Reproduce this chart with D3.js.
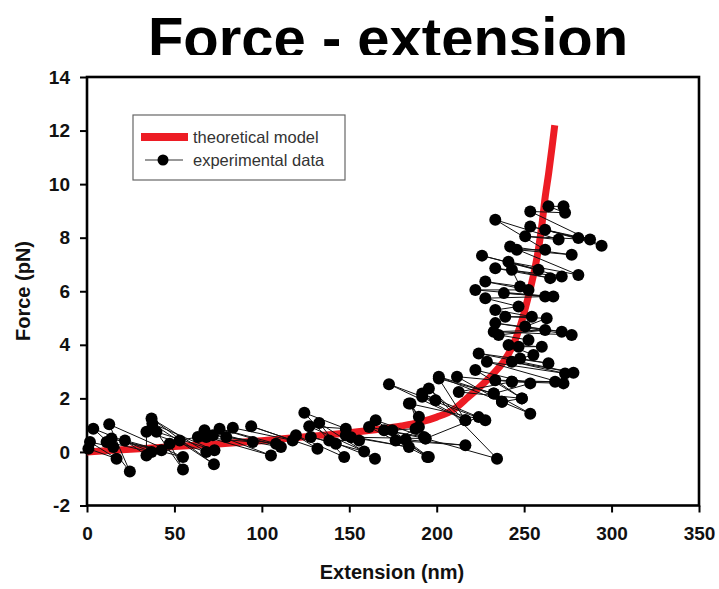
<meta charset="utf-8">
<svg id="svg" width="719" height="589"></svg>
<script src="https://cdnjs.cloudflare.com/ajax/libs/d3/7.8.5/d3.min.js"></script>
<script>
    // theoretical model curve (nm, pN)
    var modelX = [0, 25, 50, 75, 100, 125, 150, 165, 180, 190, 200, 210, 218, 225, 232, 238, 243, 248, 252, 255, 258, 260, 262, 264, 266, 267.5];
    var modelY = [0, 0.1, 0.2, 0.3, 0.42, 0.57, 0.72, 0.83, 0.97, 1.1, 1.3, 1.6, 2.05, 2.45, 2.9, 3.35, 3.9, 4.75, 5.7, 6.5, 7.5, 8.4, 9.5, 10.4, 11.4, 12.2];

    // experimental data, in recorded order
    var expX = [0.8, 16.9, 1.7, 15, 3.6, 36.9, 11.2, 24.5, 12.7, 54.9, 14, 42.6, 21.7, 34, 34, 68.2, 36.9, 72.6, 37.4, 72.9,
        39.7, 54.9, 47.3, 53, 63.4, 94.8, 67.2, 105.2, 68.2, 72, 108.1, 75.8, 110.9, 79.6, 83.4, 117.6, 93.9, 131.8,
        119.5, 147.1, 124.3, 148, 127.1, 158.5, 128, 142.3, 132.8, 164.7, 138.5, 155.6, 148, 184.1, 151, 193.6,
        161.3, 194.6, 165.1, 192.7, 169.9, 195.5, 174.6, 187.9, 176.5, 216.4, 182.2, 189.8, 185, 189.8, 184.1, 227.8,
        172.7, 216.4, 191.7, 199.3, 191.7, 224, 193.6, 234.5, 195.5, 216.4, 201.2, 232.6, 201.2, 237.3, 211.6, 243, 212.6, 248.7,
        222.1, 253.5, 232.6, 253.5, 237.3, 248.7, 233.5, 267.7, 243, 272.5, 228.7, 273.4, 243, 278.2, 224, 263.9,
        247.7, 255.3, 241.1, 260.1, 246.8, 252.5, 235.4, 262, 232.6, 277.2, 233.5, 271.5, 250.6, 262.9, 239.2, 254.4,
        233.5, 246.8, 227.8, 262, 238.4, 266.7, 222.1, 252.5, 227.8, 247.7, 243, 264.9, 233.5, 271.5, 225.9, 258.2, 241, 281,
        242, 277.2, 245.8, 262, 233.5, 269.7, 250.6, 287.7, 253.5, 281, 262, 294.3, 253.5, 273.4, 263.9, 272.5];
    var expY = [0.12, -0.25, 0.37, 0.18, 0.87, 0.0, 0.37, -0.73, 1.03, -0.19, 0.5, 0.06, 0.43, -0.13, 0.75, 0.0, 1.25, -0.46, 1.06, 0.06,
        0.75, -0.66, 0.31, 0.43, 0.56, 0.37, 0.81, -0.13, 0.56, 0.62, 0.31, 0.87, 0.18, 0.56, 0.9, 0.43, 0.96, 0.12,
        0.62, -0.19, 1.46, 0.87, 0.96, 0.02, 0.56, 0.31, 1.08, -0.25, 0.43, 0.43, 0.62, 0.18, 0.55, 0.5,
        0.93, -0.19, 1.18, 0.56, 0.81, -0.19, 0.81, 0.87, 0.43, 0.25, 0.46, 0.93, 1.81, 1.31, 1.81, 1.18,
        2.53, 1.18, 2.06, 1.93, 2.18, 1.3, 0.5, -0.25, 2.37, 1.18, 2.74, 2.18, 2.81, 1.87, 2.81, 2.62, 2.24, 2.0,
        3.06, 2.56, 2.18, 1.43, 1.87, 2.0, 2.68, 2.62, 2.62, 2.56, 3.37, 2.93, 3.37, 2.96, 3.68, 3.31,
        3.49, 3.62, 3.99, 3.93, 3.93, 4.18, 4.37, 4.55, 4.49, 4.37, 4.81, 4.49, 4.68, 4.99, 5.05, 5.05,
        5.3, 5.43, 5.74, 5.8, 5.93, 5.8, 6.05, 6.05, 6.36, 6.18, 6.8, 6.49, 6.86, 6.55, 7.33, 6.8, 7.1, 6.61,
        7.67, 7.36, 7.55, 7.55, 8.67, 7.93, 8.05, 7.93, 8.42, 7.99, 8.3, 7.7, 8.98, 8.93, 9.17, 9.17];

    var xTicks = [0, 50, 100, 150, 200, 250, 300, 350];
    var yTicks = [-2, 0, 2, 4, 6, 8, 10, 12, 14];
    var legendLabels = ["theoretical model", "experimental data"];

    var svg = d3.select("#svg");
    var font = "'Liberation Sans', Arial, sans-serif";
    var plotL = 87, plotR = 699, plotT = 77, plotB = 505.5;

    var x = d3.scaleLinear().domain([0, 350]).range([plotL, plotR]);
    var y = d3.scaleLinear().domain([-2, 14]).range([plotB, plotT]);

    svg.append("rect").attr("width", 719).attr("height", 589).attr("fill", "#fff");

    // title, cut off at the bottom like the source image
    svg.append("clipPath").attr("id", "titleclip")
        .append("rect").attr("x", 0).attr("y", 0).attr("width", 719).attr("height", 55);
    svg.append("text")
        .attr("clip-path", "url(#titleclip)")
        .attr("x", 388).attr("y", 58)
        .attr("text-anchor", "middle")
        .attr("font-family", font).attr("font-weight", "bold").attr("font-size", 58)
        .text("Force - extension");

    // axes
    var plain = function (d) { return String(d); };
    var gx = svg.append("g").attr("transform", "translate(0," + plotB + ")")
        .call(d3.axisBottom(x).tickValues(xTicks).tickFormat(plain).tickSize(7).tickPadding(14));
    var gy = svg.append("g").attr("transform", "translate(" + plotL + ",0)")
        .call(d3.axisLeft(y).tickValues(yTicks).tickFormat(plain).tickSize(7).tickPadding(10));
    [gx, gy].forEach(function (g) {
        g.select(".domain").remove();
        g.selectAll("line").attr("stroke", "#000").attr("stroke-width", 2);
        g.selectAll("text").attr("font-family", font).attr("font-weight", "bold")
            .attr("font-size", 19).attr("fill", "#111");
    });

    svg.append("rect")
        .attr("x", plotL).attr("y", plotT)
        .attr("width", plotR - plotL).attr("height", plotB - plotT)
        .attr("fill", "none").attr("stroke", "#000").attr("stroke-width", 2.6);

    svg.append("text")
        .attr("x", 392).attr("y", 579)
        .attr("text-anchor", "middle")
        .attr("font-family", font).attr("font-weight", "bold").attr("font-size", 20).attr("fill", "#111")
        .text("Extension (nm)");
    svg.append("text")
        .attr("transform", "translate(30,291) rotate(-90)")
        .attr("text-anchor", "middle")
        .attr("font-family", font).attr("font-weight", "bold").attr("font-size", 20).attr("fill", "#111")
        .text("Force (pN)");

    // model curve
    var model = modelX.map(function (d, i) { return [d, modelY[i]]; });
    svg.append("path")
        .datum(model)
        .attr("fill", "none")
        .attr("stroke", "#ed1c24")
        .attr("stroke-width", 7)
        .attr("d", d3.line()
            .x(function (d) { return x(d[0]); })
            .y(function (d) { return y(d[1]); })
            .curve(d3.curveMonotoneX));

    // experimental data
    var pts = expX.map(function (d, i) { return [d, expY[i]]; });
    svg.append("path")
        .datum(pts)
        .attr("fill", "none")
        .attr("stroke", "#111")
        .attr("stroke-width", 1)
        .attr("d", d3.line()
            .x(function (d) { return x(d[0]); })
            .y(function (d) { return y(d[1]); }));
    svg.selectAll("circle.pt")
        .data(pts)
        .enter()
        .append("circle")
        .attr("class", "pt")
        .attr("cx", function (d) { return x(d[0]); })
        .attr("cy", function (d) { return y(d[1]); })
        .attr("r", 6)
        .attr("fill", "#000");

    // legend
    var lg = svg.append("g");
    lg.append("rect")
        .attr("x", 133).attr("y", 115).attr("width", 212).attr("height", 65)
        .attr("fill", "#fff").attr("stroke", "#666").attr("stroke-width", 1.2);
    lg.append("line")
        .attr("x1", 141).attr("x2", 188).attr("y1", 137).attr("y2", 137)
        .attr("stroke", "#ed1c24").attr("stroke-width", 8);
    lg.append("line")
        .attr("x1", 145).attr("x2", 183).attr("y1", 160).attr("y2", 160)
        .attr("stroke", "#333").attr("stroke-width", 1);
    lg.append("circle").attr("cx", 163).attr("cy", 160).attr("r", 5.5).attr("fill", "#000");
    lg.selectAll("text.lab")
        .data(legendLabels)
        .enter()
        .append("text")
        .attr("class", "lab")
        .attr("x", 193)
        .attr("y", function (d, i) { return 137 + i * 23; })
        .attr("dy", "0.35em")
        .attr("font-family", font).attr("font-size", 16.5).attr("fill", "#333")
        .text(function (d) { return d; });
</script>
<style>
    html,
    body {
        margin: 0;
        padding: 0;
    }
</style>
